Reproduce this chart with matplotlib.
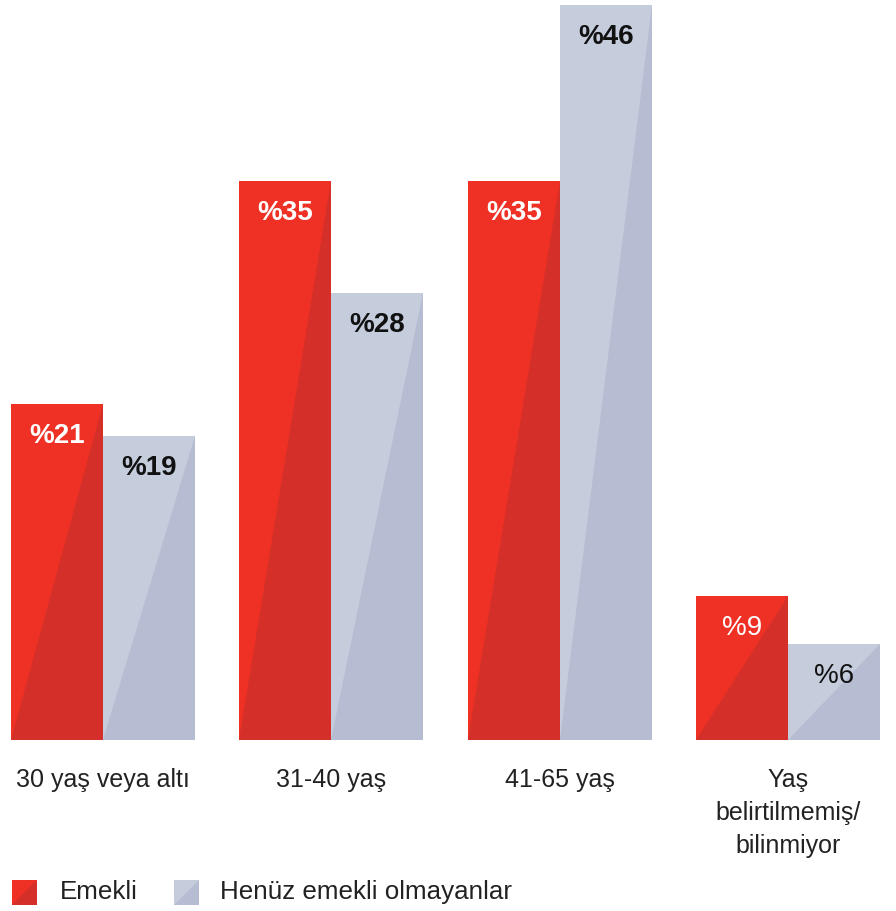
import numpy as np
import matplotlib
matplotlib.use("Agg")
import matplotlib.pyplot as plt
from matplotlib.patches import Polygon, Rectangle

plt.rcParams['font.family'] = ['Liberation Sans', 'DejaVu Sans']

categories = ["30 yaş veya altı", "31-40 yaş", "41-65 yaş", "Yaş\nbelirtilmemiş/\nbilinmiyor"]
emekli     = [21, 35, 35, 9]
henuz      = [19, 28, 46, 6]
series_names = ["Emekli", "Henüz emekli olmayanlar"]

RED_L, RED_D   = "#EE3124", "#D42F29"
GREY_L, GREY_D = "#C5CCDC", "#B6BDD2"
W = 0.403

fig = plt.figure(figsize=(8.96, 9.11), dpi=100)
ax = fig.add_axes([11/896, 171/911, 869/896, 735/911])

x = np.arange(len(categories))


def split_bars(xs, vals, light, dark, txtcol):
    bars = ax.bar(xs, vals, width=W, color=light, linewidth=0)
    for b, v in zip(bars, vals):
        x0, x1, h = b.get_x(), b.get_x() + b.get_width(), b.get_height()
        ax.add_patch(Polygon([(x0, 0), (x1, 0), (x1, h)], closed=True,
                             facecolor=dark, edgecolor="none"))
        big = v >= 15
        ax.text(b.get_x() + b.get_width()/2, h - 2.0, f"%{v}",
                ha="center", va="center", color=txtcol, fontsize=20,
                fontweight="bold" if big else "normal")


split_bars(x - W/2, emekli, RED_L, RED_D, "white")
split_bars(x + W/2, henuz, GREY_L, GREY_D, "#111111")

ax.set_xlim(-W, 3 + W)
ax.set_ylim(0, 46)
ax.set_xticks(x)
ax.set_xticklabels(categories, fontsize=18, color="#222222", linespacing=1.45)
ax.tick_params(axis="x", length=0, pad=20.5)
ax.set_yticks([])
for s in ax.spines.values():
    s.set_visible(False)

# legend drawn by hand (split squares)
def px(xp, yp):
    return xp / 896, 1 - yp / 911

for (sx, tx, lab, lc, dc) in [(12, 60, series_names[0], RED_L, RED_D),
                              (174, 220, series_names[1], GREY_L, GREY_D)]:
    x0, y0 = px(sx, 905)
    x1, y1 = px(sx + 25, 880)
    fig.add_artist(Rectangle((x0, y0), x1 - x0, y1 - y0, transform=fig.transFigure,
                             facecolor=lc, edgecolor="none"))
    fig.add_artist(Polygon([(x0, y0), (x1, y0), (x1, y1)], closed=True,
                           transform=fig.transFigure, facecolor=dc, edgecolor="none"))
    tx_, ty_ = px(tx, 892)
    fig.text(tx_, ty_, lab, ha="left", va="center", fontsize=18.7, color="#222222")

fig.savefig("out.png", dpi=100)
